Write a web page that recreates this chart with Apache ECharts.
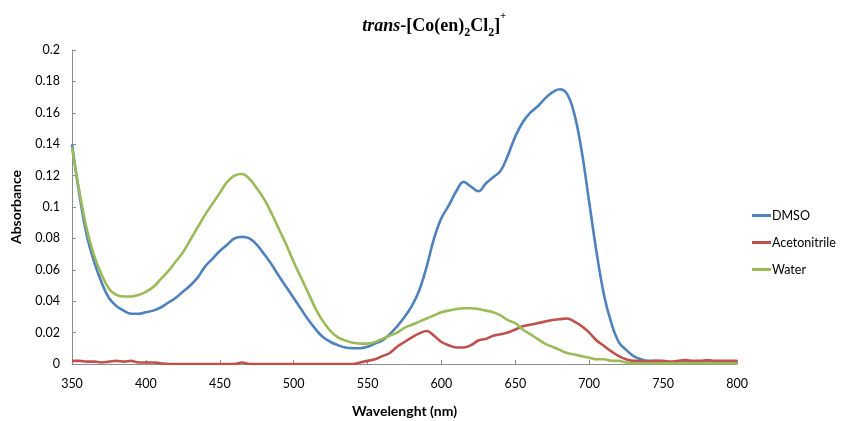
<!DOCTYPE html>
<html>
<head>
<meta charset="utf-8">
<script src="https://cdn.jsdelivr.net/npm/echarts@6/dist/echarts.min.js"></script>
<style>html,body{margin:0;padding:0;background:#fff}#c{width:868px;height:421px}</style>
</head>
<body>
<div id="c"></div>
<script>
// Wavelengths (nm), 5 nm steps from 350 to 800
const wavelengths = [];
for (let w = 350; w <= 800; w += 5) wavelengths.push(w);

const xTicks = [350, 400, 450, 500, 550, 600, 650, 700, 750, 800];
const yTicks = [0, 0.02, 0.04, 0.06, 0.08, 0.1, 0.12, 0.14, 0.16, 0.18, 0.2];

const dmso = [
  0.140, 0.108, 0.082, 0.065, 0.052, 0.042, 0.037, 0.034, 0.032, 0.032,
  0.033, 0.034, 0.036, 0.039, 0.042, 0.046, 0.050, 0.055, 0.062, 0.067,
  0.072, 0.076, 0.080, 0.081, 0.080, 0.076, 0.070, 0.0635, 0.056, 0.049,
  0.042, 0.035, 0.028, 0.022, 0.017, 0.014, 0.012, 0.0105, 0.010, 0.010,
  0.011, 0.013, 0.015, 0.019, 0.024, 0.030, 0.037, 0.047, 0.062, 0.080,
  0.093, 0.101, 0.110, 0.116, 0.113, 0.110, 0.115, 0.119, 0.123, 0.133,
  0.145, 0.154, 0.160, 0.164, 0.169, 0.173, 0.175, 0.172, 0.159, 0.135,
  0.103, 0.071, 0.044, 0.026, 0.014, 0.009, 0.005, 0.003, 0.002, 0.002,
  0.0015, 0.001, 0.001, 0.001, 0.001, 0.001, 0.001, 0.001, 0.001, 0.001,
  0.001
];

const acetonitrile = [
  0.002, 0.002, 0.0015, 0.0015, 0.001, 0.0015, 0.002, 0.0015, 0.002, 0.001,
  0.001, 0.001, 0.0005, 0, 0, 0, 0, 0, 0, 0,
  0, 0, 0, 0.001, 0, 0, 0, 0, 0, 0,
  0, 0, 0, 0, 0, 0, 0, 0, 0, 0.001,
  0.002, 0.003, 0.005, 0.007, 0.011, 0.014, 0.017, 0.0195, 0.021, 0.018,
  0.014, 0.012, 0.0105, 0.0105, 0.012, 0.015, 0.016, 0.018, 0.019, 0.020,
  0.022, 0.024, 0.025, 0.026, 0.027, 0.028, 0.0285, 0.029, 0.027, 0.024,
  0.020, 0.015, 0.0115, 0.008, 0.005, 0.003, 0.002, 0.002, 0.0015, 0.002,
  0.002, 0.0015, 0.002, 0.0025, 0.002, 0.002, 0.0025, 0.002, 0.002, 0.002,
  0.002
];

const water = [
  0.138, 0.110, 0.086, 0.069, 0.057, 0.048, 0.044, 0.043, 0.043, 0.044,
  0.046, 0.049, 0.054, 0.059, 0.065, 0.071, 0.079, 0.087, 0.095, 0.102,
  0.109, 0.116, 0.120, 0.121, 0.118, 0.112, 0.105, 0.096, 0.086, 0.076,
  0.065, 0.055, 0.045, 0.035, 0.027, 0.021, 0.017, 0.015, 0.0135, 0.013,
  0.013, 0.014, 0.016, 0.018, 0.020, 0.023, 0.025, 0.027, 0.029, 0.031,
  0.033, 0.034, 0.035, 0.0355, 0.0355, 0.035, 0.034, 0.033, 0.031, 0.028,
  0.026, 0.022, 0.019, 0.016, 0.013, 0.011, 0.009, 0.007, 0.006, 0.005,
  0.004, 0.003, 0.003, 0.002, 0.002, 0.001, 0.0005, 0.0005, 0.0005, 0.0005,
  0.0005, 0.0005, 0.0005, 0.0005, 0.0005, 0.0005, 0.0005, 0.0005, 0.0005, 0.0005,
  0.0005
];

const seriesNames = ['DMSO', 'Acetonitrile', 'Water'];
const seriesColors = ['#4F81BD', '#C0504D', '#9BBB59'];
const seriesValues = [dmso, acetonitrile, water];

const pair = arr => wavelengths.map((w, i) => [w, arr[i]]);
const axisColor = '#8c8c8c';
const fontFam = 'Lato, "Liberation Sans", sans-serif';
const serif = '"Liberation Serif", "DejaVu Serif", serif';

const chart = echarts.init(document.getElementById('c'), null, { renderer: 'canvas' });
chart.setOption({
  animation: false,
  backgroundColor: '#fff',
  title: {
    text: '{i|trans}{n|-[Co(en)}{s|2}{n|Cl}{s|2}{n|]}{p|+}',
    left: 'center',
    top: 6,
    textStyle: {
      rich: {
        i: { fontFamily: serif, fontWeight: 'bold', fontStyle: 'italic', fontSize: 18, color: '#000', lineHeight: 24, verticalAlign: 'bottom' },
        n: { fontFamily: serif, fontWeight: 'bold', fontSize: 18, color: '#000', lineHeight: 24, verticalAlign: 'bottom' },
        s: { fontFamily: serif, fontWeight: 'bold', fontSize: 12, color: '#000', lineHeight: 24, verticalAlign: 'bottom', padding: [0, 0, -4, 0] },
        p: { fontFamily: serif, fontWeight: 'bold', fontSize: 10, color: '#000', lineHeight: 24, verticalAlign: 'top' }
      }
    }
  },
  legend: {
    orient: 'vertical',
    left: 747,
    top: 204,
    itemGap: 14,
    itemWidth: 19,
    itemHeight: 3,
    icon: 'rect',
    data: seriesNames,
    textStyle: { fontFamily: fontFam, fontSize: 12.5, color: '#000', padding: [0, 0, 0, -4] }
  },
  grid: { left: 72, right: 131, top: 50, bottom: 57, containLabel: false, outerBoundsMode: 'none' },
  xAxis: {
    type: 'value',
    min: xTicks[0],
    max: xTicks[xTicks.length - 1],
    interval: 50,
    name: 'Wavelenght (nm)',
    nameLocation: 'middle',
    nameGap: 40,
    nameTextStyle: { fontFamily: fontFam, fontWeight: 'bold', fontSize: 14, color: '#000' },
    axisLine: { show: true, lineStyle: { color: axisColor, width: 1 } },
    axisTick: { show: true, inside: true, length: 4, lineStyle: { color: axisColor } },
    axisLabel: { margin: 13, fontFamily: fontFam, fontSize: 12.5, color: '#000' },
    splitLine: { show: false }
  },
  yAxis: {
    type: 'value',
    min: yTicks[0],
    max: yTicks[yTicks.length - 1],
    interval: 0.02,
    name: 'Absorbance',
    nameLocation: 'middle',
    nameGap: 49,
    nameRotate: 90,
    nameTextStyle: { fontFamily: fontFam, fontWeight: 'bold', fontSize: 14, color: '#000' },
    axisLine: { show: true, lineStyle: { color: axisColor, width: 1 } },
    axisTick: { show: true, inside: true, length: 4, lineStyle: { color: axisColor } },
    axisLabel: { margin: 12, fontFamily: fontFam, fontSize: 12.5, color: '#000', formatter: v => String(+v.toFixed(2)) },
    splitLine: { show: false }
  },
  series: seriesNames.map((name, k) => ({
    name: name,
    type: 'line',
    data: pair(seriesValues[k]),
    showSymbol: false,
    symbol: 'none',
    smooth: 0.4,
    color: seriesColors[k],
    lineStyle: { width: 2.6, color: seriesColors[k] },
    z: 2 + k
  }))
});
</script>
</body>
</html>
